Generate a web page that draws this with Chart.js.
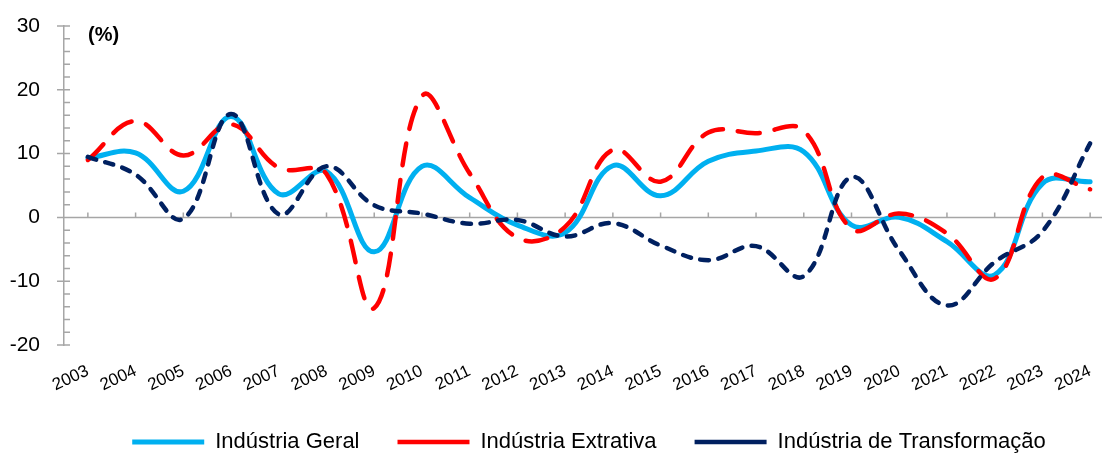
<!DOCTYPE html>
<html>
<head>
<meta charset="utf-8">
<script src="https://cdn.jsdelivr.net/npm/chart.js@4/dist/chart.umd.min.js"></script>
<style>
    html, body { margin: 0; padding: 0; background: #fff; overflow: hidden; }
    #wrap { width: 1154px; height: 463px; position: relative; }
</style>
</head>
<body>
<div id="wrap"><canvas id="grafico"></canvas></div>
<script>
// Anos (categorias do eixo x)
const anos = ['2003', '2004', '2005', '2006', '2007', '2008', '2009', '2010', '2011', '2012', '2013',
    '2014', '2015', '2016', '2017', '2018', '2019', '2020', '2021', '2022', '2023', '2024'];

// Variação anual (%)
const industriaGeral = [9.3, 10.1, 4.1, 15.8, 3.7, 7.2, -5.4, 8.0, 3.1, -1.2, -2.4,
    8.1, 3.4, 8.8, 10.4, 10.3, -1.2, 0.0, -3.8, -9.0, 5.3, 5.6];
const industriaExtrativa = [9.0, 15.1, 9.7, 14.6, 7.8, 6.8, -14.2, 19.0, 6.9, -3.2, -1.5,
    10.6, 5.6, 13.3, 13.2, 13.6, -1.8, 0.6, -2.5, -9.6, 6.3, 4.4];
const industriaTransformacao = [9.5, 6.7, -0.2, 16.2, 0.5, 8.0, 1.9, 0.6, -1.0, -0.4, -3.0,
    -0.9, -4.4, -6.7, -4.5, -9.2, 6.3, -5.2, -13.8, -7.0, -2.2, 11.6];

// Eixo y
const yMin = -20;
const yMax = 30;
const yStep = 10;
const yMinorStep = 2;
const unidade = '(%)';

const FONTE = "'Liberation Sans', Arial, sans-serif";
const CINZA = '#a6a6a6';

/**
 * Linha do zero, marcas do eixo x sobre o zero, marcas do eixo y e o rótulo da unidade.
 */
const eixosExcel = {
    id: 'eixosExcel',
    beforeDatasetsDraw(chart) {
        const {ctx, chartArea, scales: {x, y}} = chart;
        const y0 = y.getPixelForValue(0);
        ctx.save();
        ctx.strokeStyle = CINZA;
        ctx.lineWidth = 1.5;
        ctx.beginPath();
        ctx.moveTo(chartArea.left, y0);
        ctx.lineTo(chartArea.right, y0);
        anos.forEach((ano, i) => {
            const px = x.getPixelForValue(i);
            ctx.moveTo(px, y0);
            ctx.lineTo(px, y0 - 5);
        });
        for (let v = yMin; v <= yMax; v += yMinorStep) {
            const py = y.getPixelForValue(v);
            const maior = v % yStep === 0;
            ctx.moveTo(chartArea.left - (maior ? 7 : 0), py);
            ctx.lineTo(chartArea.left + 6, py);
        }
        ctx.stroke();

        ctx.fillStyle = '#000';
        ctx.font = 'bold 20px ' + FONTE;
        ctx.textBaseline = 'alphabetic';
        ctx.fillText(unidade, chartArea.left + 24, chartArea.top + 15);
        ctx.restore();
    }
};

new Chart(document.getElementById('grafico'), {
    type: 'line',
    data: {
        labels: anos,
        datasets: [
            {
                label: 'Indústria Geral',
                data: industriaGeral,
                borderColor: '#00b0f0',
                borderWidth: 5,
                order: 3
            },
            {
                label: 'Indústria Extrativa',
                data: industriaExtrativa,
                borderColor: '#ff0000',
                borderWidth: 4.5,
                borderDash: [22, 15],
                order: 2
            },
            {
                label: 'Indústria de Transformação',
                data: industriaTransformacao,
                borderColor: '#002060',
                borderWidth: 4.5,
                borderDash: [8.5, 9.5],
                order: 1
            }
        ]
    },
    options: {
        responsive: true,
        maintainAspectRatio: false,
        animation: false,
        layout: {padding: {left: 0, right: 40, top: 26, bottom: 0}},
        elements: {
            line: {tension: 0.4, fill: false, borderCapStyle: 'round', borderJoinStyle: 'round'},
            point: {radius: 0, hoverRadius: 0, pointStyle: 'line'}
        },
        scales: {
            x: {
                offset: true,
                grid: {display: false},
                border: {display: false},
                ticks: {
                    autoSkip: false,
                    minRotation: 25,
                    maxRotation: 25,
                    padding: 8,
                    color: '#000',
                    font: {family: FONTE, size: 17}
                },
                afterFit(scale) { scale.height = 48; }
            },
            y: {
                min: yMin,
                max: yMax,
                // tick marks are drawn by the plugin; the transparent ones only push the labels left
                grid: {display: true, drawOnChartArea: false, drawTicks: true, tickLength: 24, tickColor: 'transparent'},
                border: {display: true, color: CINZA, width: 1.5},
                ticks: {
                    stepSize: yStep,
                    padding: 0,
                    color: '#000',
                    font: {family: FONTE, size: 21}
                },
                afterFit(scale) { scale.width = 64; }
            }
        },
        plugins: {
            tooltip: {enabled: false},
            legend: {
                position: 'bottom',
                fullSize: false,
                labels: {
                    usePointStyle: true,
                    pointStyle: 'line',
                    pointStyleWidth: 72,
                    padding: 38,
                    color: '#000',
                    font: {family: FONTE, size: 22},
                    sort: (a, b) => a.datasetIndex - b.datasetIndex
                }
            }
        }
    },
    plugins: [eixosExcel]
});
</script>
</body>
</html>
